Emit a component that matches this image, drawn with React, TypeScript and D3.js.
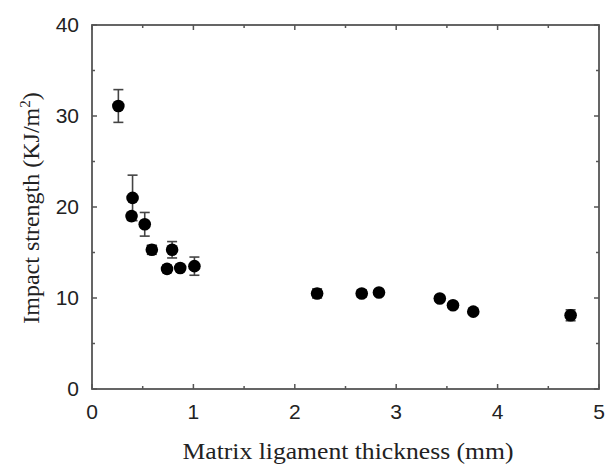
import React from 'react';
import * as d3 from 'd3';

// ligament thickness (mm)
const thickness = [0.26, 0.40, 0.39, 0.52, 0.59, 0.74, 0.79, 0.87, 1.01, 2.22, 2.66, 2.83, 3.43, 3.56, 3.76, 4.72];
// impact strength (KJ/m2)
const strength = [31.1, 21.0, 19.0, 18.1, 15.3, 13.2, 15.3, 13.3, 13.5, 10.5, 10.5, 10.6, 9.95, 9.2, 8.5, 8.1];
// error (+/-)
const errors = [1.8, 2.5, 0.4, 1.3, 0.5, 0.4, 0.9, 0.3, 1.0, 0.5, 0.4, 0.3, 0.3, 0.3, 0.3, 0.6];

const xTicks = [0, 1, 2, 3, 4, 5];
const yTicks = [0, 10, 20, 30, 40];

const width = 605;
const height = 466;
const margin = { top: 25, right: 6, bottom: 77, left: 92 };

const App = () => {
  const x = d3.scaleLinear().domain([0, 5]).range([margin.left, width - margin.right]);
  const y = d3.scaleLinear().domain([0, 40]).range([height - margin.bottom, margin.top]);

  const x0 = x(0), x1 = x(5), y0 = y(0), y1 = y(40);
  const axisColor = '#555';
  const xMinor = d3.range(0.5, 5, 1);
  const yMinor = d3.range(5, 40, 10);

  const points = thickness.map((t, i) => ({ t, s: strength[i], e: errors[i] }));

  return (
    <svg width={width} height={height} style={{ position: 'absolute', left: 0, top: 0, background: '#fff' }}>
      {/* frame */}
      <rect x={x0} y={y1} width={x1 - x0} height={y0 - y1} fill="none" stroke={axisColor} strokeWidth={1.8} />

      {/* ticks, inward on all sides */}
      {xTicks.map(t => (
        <g key={'xt' + t} stroke={axisColor} strokeWidth={1.5}>
          <line x1={x(t)} x2={x(t)} y1={y0} y2={y0 - 5} />
          <line x1={x(t)} x2={x(t)} y1={y1} y2={y1 + 5} />
        </g>
      ))}
      {xMinor.map(t => (
        <g key={'xm' + t} stroke={axisColor} strokeWidth={1.5}>
          <line x1={x(t)} x2={x(t)} y1={y0} y2={y0 - 3} />
          <line x1={x(t)} x2={x(t)} y1={y1} y2={y1 + 3} />
        </g>
      ))}
      {yTicks.map(t => (
        <g key={'yt' + t} stroke={axisColor} strokeWidth={1.5}>
          <line x1={x0} x2={x0 + 5} y1={y(t)} y2={y(t)} />
          <line x1={x1} x2={x1 - 5} y1={y(t)} y2={y(t)} />
        </g>
      ))}
      {yMinor.map(t => (
        <g key={'ym' + t} stroke={axisColor} strokeWidth={1.5}>
          <line x1={x0} x2={x0 + 3} y1={y(t)} y2={y(t)} />
          <line x1={x1} x2={x1 - 3} y1={y(t)} y2={y(t)} />
        </g>
      ))}

      {/* tick labels */}
      {xTicks.map(t => (
        <text key={'xl' + t} x={x(t)} y={y0 + 30} textAnchor="middle"
          fontFamily="Liberation Sans, Arial, sans-serif" fontSize={21} fill="#222">{t}</text>
      ))}
      {yTicks.map(t => (
        <text key={'yl' + t} x={x0 - 13} y={y(t)} dy="0.35em" textAnchor="end"
          fontFamily="Liberation Sans, Arial, sans-serif" fontSize={21} fill="#222">{t}</text>
      ))}

      {/* axis titles */}
      <text x={348} y={459} textAnchor="middle" textLength={331} lengthAdjust="spacingAndGlyphs"
        fontFamily="Liberation Serif, Times New Roman, serif" fontSize={23} fill="#222">
        Matrix ligament thickness (mm)
      </text>
      <text transform={`translate(39,208) rotate(-90)`} textAnchor="middle"
        fontFamily="Liberation Serif, Times New Roman, serif" fontSize={24} fill="#222">
        Impact strength (KJ/m<tspan dy={-9} fontSize={15}>2</tspan><tspan dy={9}>)</tspan>
      </text>

      {/* error bars */}
      {points.map((p, i) => (
        <g key={'e' + i} stroke="#444" strokeWidth={1.6}>
          <line x1={x(p.t)} x2={x(p.t)} y1={y(p.s - p.e)} y2={y(p.s + p.e)} />
          <line x1={x(p.t) - 5} x2={x(p.t) + 5} y1={y(p.s + p.e)} y2={y(p.s + p.e)} />
          <line x1={x(p.t) - 5} x2={x(p.t) + 5} y1={y(p.s - p.e)} y2={y(p.s - p.e)} />
        </g>
      ))}

      {/* points */}
      {points.map((p, i) => (
        <circle key={'p' + i} cx={x(p.t)} cy={y(p.s)} r={6.3} fill="#000" />
      ))}
    </svg>
  );
};

export default App;
